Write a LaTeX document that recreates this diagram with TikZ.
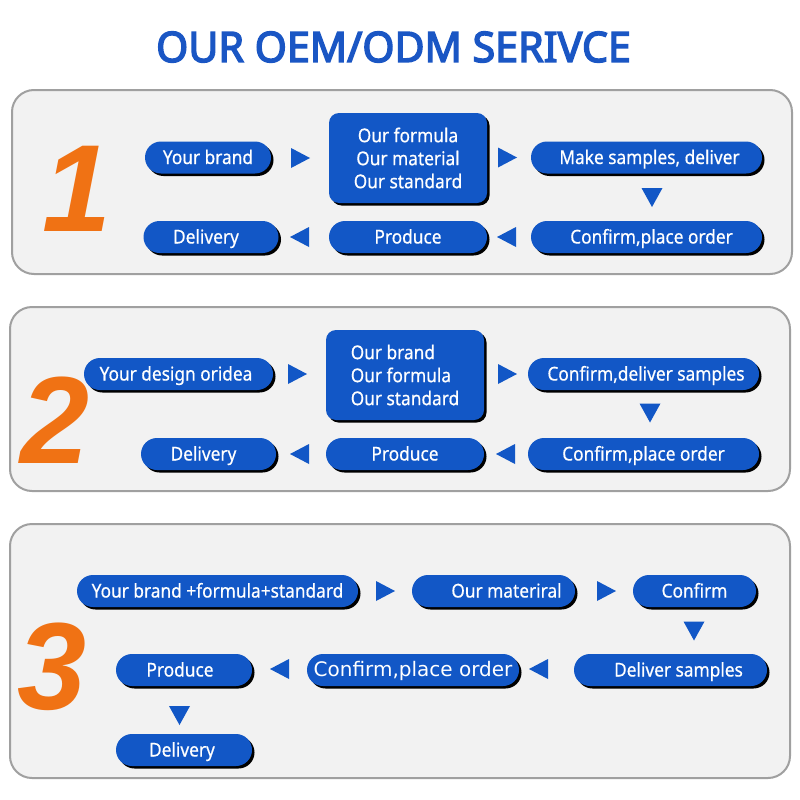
\documentclass[tikz,border=0pt]{standalone}
\usepackage{fontspec}
\setmainfont{Noto Sans}[FakeStretch=0.91, FakeBold=0.5]
\newfontfamily\titlefont{Noto Sans}[FakeStretch=0.98, FakeBold=3.5]
\newfontfamily\numfont{Liberation Sans}
\newfontfamily\dvfont{DejaVu Sans}
\usetikzlibrary{shadows}
\definecolor{pblue}{HTML}{1257C6}
\definecolor{tblue}{HTML}{1A56C4}
\definecolor{orng}{HTML}{F07214}
\definecolor{pfill}{HTML}{F2F2F2}
\definecolor{pline}{HTML}{A0A0A0}
\tikzset{
  panel/.style={draw=pline, line width=2pt, fill=pfill, rounded corners=22pt},
  pill/.style={fill=pblue, text=white, minimum height=32pt, minimum width=#1,
    rounded corners=16pt, inner sep=0pt, text height=15pt, text depth=2pt,
    font=\fontsize{19}{23}\selectfont,
    general shadow={fill=black, shadow xshift=2.5pt, shadow yshift=-2.5pt}},
  bigbox/.style={fill=pblue, text=white, minimum height=90pt, minimum width=158pt,
    rounded corners=10pt, inner sep=0pt, font=\fontsize{19}{23}\selectfont,
    general shadow={fill=black, shadow xshift=2.5pt, shadow yshift=-2.5pt}},
  num/.style={text=orng, font=\numfont\bfseries\itshape\fontsize{124}{124}\selectfont, inner sep=0pt},
  ttl/.style={text=tblue, font=\titlefont\fontsize{42}{42}\selectfont, inner sep=0pt}
}
\newcommand\arrR[1]{\fill[pblue] (#1) ++(-9,-10) -- ++(19,10) -- ++(-19,10) -- cycle;}
\newcommand\arrL[1]{\fill[pblue] (#1) ++(9,-10) -- ++(-19,10) -- ++(19,10) -- cycle;}
\newcommand\arrD[1]{\fill[pblue] (#1) ++(-10.5,-9.5) -- ++(21,0) -- ++(-10.5,19) -- cycle;}
\begin{document}
\begin{tikzpicture}[x=1pt,y=-1pt]
\useasboundingbox (0,0) rectangle (800,800);
\fill[white] (0,0) rectangle (800,800);
\node[ttl, anchor=base] (title) at (393.5,62) {OUR OEM/ODM SERIVCE};

% panels
\draw[panel] (12,90) rectangle (792,274);
\draw[panel] (10,307) rectangle (790,491);
\draw[panel] (10,524) rectangle (790,778);

% numbers
\node[num] (n1) at (77,189) {1};
\node[num] (n2) at (55,420) {2};
\node[num] (n3) at (52,667) {3};

% panel 1
\node[pill=126pt] (a1) at (208,157.5) {Your brand};
\node[bigbox, align=center] (b1) at (408,158) {Our formula\\Our material\\Our standard};
\node[pill=231pt] (c1) at (646.5,157.5) {\hspace*{6pt}Make samples, deliver};
\node[pill=231pt] (d1) at (646.5,237) {\hspace*{10pt}Confirm,place order};
\node[pill=158pt] (e1) at (408,237) {Produce};
\node[pill=135pt] (f1) at (211,237) {Delivery\hspace*{10pt}};
\arrR{300,158}
\arrR{507,157.5}
\arrD{652,197.5}
\arrL{300,237}
\arrL{507,237}

% panel 2
\node[pill=189pt] (a2) at (178.5,374) {Your design oridea\hspace*{5pt}};
\node[bigbox, align=left] (b2) at (405,375) {Our brand\\Our formula\\Our standard};
\node[pill=231pt] (c2) at (643.5,374) {\hspace*{5pt}Confirm,deliver samples};
\node[pill=231pt] (d2) at (643.5,454) {Confirm,place order};
\node[pill=158pt] (e2) at (405,454) {Produce};
\node[pill=135pt] (f2) at (208.5,454) {Delivery\hspace*{10pt}};
\arrR{297,374}
\arrR{507,374}
\arrD{650,413}
\arrL{300,454}
\arrL{506,454}

% panel 3
\node[pill=281pt] (a3) at (217.5,591) {Your brand +formula+standard};
\node[pill=163pt] (b3) at (493.5,591) {\hspace*{26pt}Our materiral};
\node[pill=123pt] (c3) at (694.5,591) {Confirm};
\node[pill=193pt] (d3) at (670.5,670) {\hspace*{16pt}Deliver samples};
\node[pill=212pt, font=\dvfont\fontsize{20}{24}\selectfont] (e3) at (413,670) {Confirm,place order};
\node[pill=136pt] (f3) at (184,670) {Produce\hspace*{8pt}};
\node[pill=136pt] (g3) at (184,750) {Delivery\hspace*{4pt}};
\arrR{385,591}
\arrR{606,591}
\arrD{694,631}
\arrL{539,669}
\arrL{280,669}
\arrD{179.5,715.5}
\end{tikzpicture}
\end{document}
